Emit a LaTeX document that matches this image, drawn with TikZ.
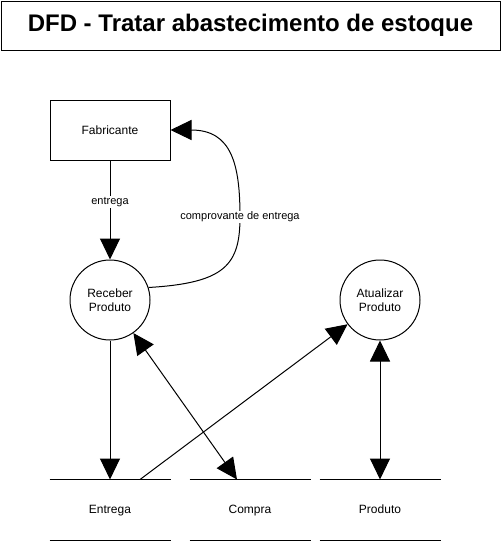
\documentclass[tikz,border=0pt]{standalone}
\usepackage{fontspec}
\setmainfont{Liberation Sans}
\usepackage{tikz}
\usetikzlibrary{arrows.meta,positioning,calc}

\begin{document}
\begin{tikzpicture}[x=1pt,y=-1pt,line width=1pt,
    flow/.style={-{Triangle[length=21pt,width=20pt]}},
    both/.style={{Triangle[length=21pt,width=20pt]}-{Triangle[length=21pt,width=20pt]}},
    entity/.style={draw,minimum width=120pt,minimum height=60pt,inner sep=0pt,font=\fontsize{12}{14}\selectfont},
    process/.style={draw,circle,minimum size=80pt,inner sep=0pt,align=center,font=\fontsize{12}{14}\selectfont},
    store/.style={minimum width=120pt,minimum height=60pt,inner sep=0pt,text height=8.6pt,text depth=2.5pt,font=\fontsize{12}{14}\selectfont},
    lbl/.style={fill=white,inner sep=1pt,font=\fontsize{11}{13}\selectfont}]
    \useasboundingbox (0,0) rectangle (501,541);

    % Title
    \node[draw,minimum width=499pt,minimum height=49pt,inner sep=0pt,
          font=\fontsize{24}{28}\bfseries\selectfont] (titulo) at (250.5,25.5)
          {DFD - Tratar abastecimento de estoque};

    % External entity
    \node[entity] (fabricante) at (110,130) {Fabricante};

    % Processes
    \node[process] (receber) at (110,300) {Receber\\Produto};
    \node[process] (atualizar) at (380,300) {Atualizar\\Produto};

    % Data stores
    \node[store] (entrega) at (110,510) {Entrega};
    \node[store] (compra) at (250,510) {Compra};
    \node[store] (produto) at (380,510) {Produto};
    \foreach \s in {entrega,compra,produto} {
        \draw (\s.north west) -- (\s.north east);
        \draw (\s.south west) -- (\s.south east);
    }

    % Flows
    \draw[flow] (fabricante) -- (receber) node[lbl,pos=0.42] {entrega};
    \draw[flow] (receber.18) .. controls (225,283) and (240,265) .. (240,217)
        node[lbl] {comprovante de entrega}
        .. controls (240,165) and (232,130) .. (fabricante.east);
    \draw[flow] (receber) -- (entrega.north);
    \draw[flow] ([xshift=30pt]entrega.north) -- (atualizar);
    \draw[both] (receber) -- ([xshift=-13pt]compra.north);
    \draw[both] (atualizar) -- (produto.north);
\end{tikzpicture}
\end{document}
